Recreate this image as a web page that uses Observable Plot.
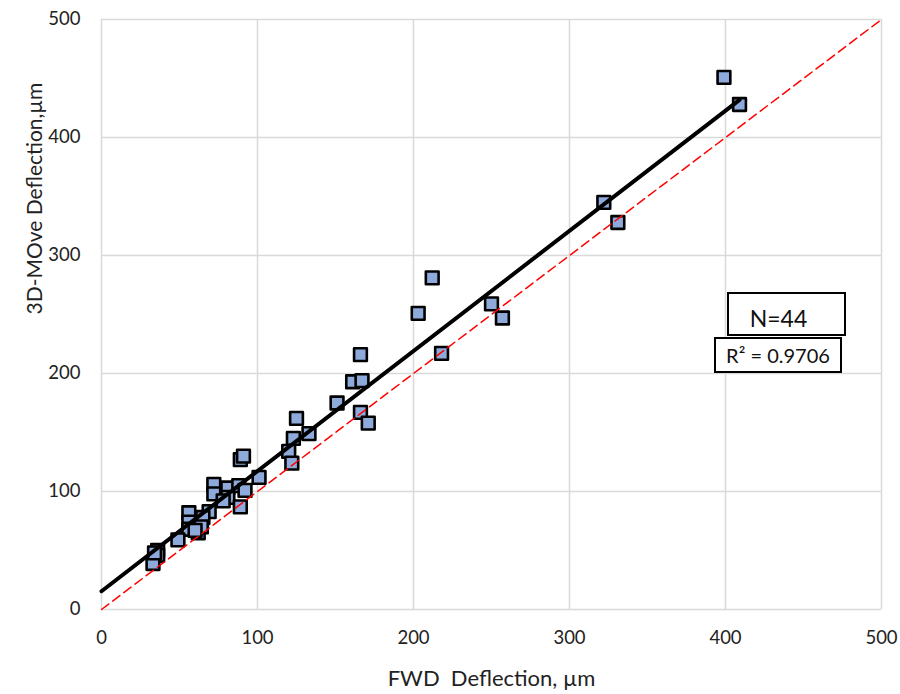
<!DOCTYPE html>
<html>
<head>
<meta charset="utf-8">
<script src="https://cdn.jsdelivr.net/npm/d3@7"></script>
<script src="https://cdn.jsdelivr.net/npm/@observablehq/plot@0.6"></script>
<style>
  html, body { margin: 0; padding: 0; background: #fff; }
  #wrap { position: relative; width: 900px; height: 694px; font-family: Lato, "Open Sans", sans-serif; }
  .box { position: absolute; box-sizing: border-box; border: 2px solid #000; background: #fff; color: #111; display: flex; align-items: center; justify-content: center; white-space: nowrap; }
</style>
</head>
<body>
<div id="wrap"></div>
<script>
// FWD deflection (µm) and 3D-MOve deflection (µm)
const fwd   = [399, 409, 322, 331, 212, 203, 250, 257, 218, 166, 161, 167, 151, 166, 171,
               125, 133, 123, 120, 122, 89, 91, 101, 72, 72, 81, 81, 88, 92, 89,
               56, 69, 56, 65, 62, 56, 64, 49, 36, 36, 33, 60, 78, 34];
const move3d = [451, 428, 345, 328, 281, 251, 259, 247, 217, 216, 193, 194, 175, 167, 158,
               162, 149, 145, 134, 124, 127, 130, 112, 106, 98, 103, 95, 105, 101, 87,
               82, 83, 74, 78, 65, 68, 70, 59, 50, 46, 39, 67, 92, 48];
const ticks = [0, 100, 200, 300, 400, 500];
const oneToOne = [0, 500];
// trendline (y = slope·x + intercept), from x = 0 to the last FWD value
const trendSlope = 1.018;
const trendIntercept = 15.5;
const trendRange = [0, 409];
const nLabel = "N=44";
const r2Label = "R² = 0.9706";
const xLabel = "FWD\u00a0 Deflection, µm";
const yLabel = "3D-MOve Deflection,µm";

const pts = fwd.map((x, i) => ({x, y: move3d[i]}));
const trend = trendRange.map(x => ({x, y: trendIntercept + trendSlope * x}));

const chart = Plot.plot({
  width: 900,
  height: 694,
  marginLeft: 101,
  marginRight: 19,
  marginTop: 19,
  marginBottom: 85,
  style: {fontFamily: "Lato, 'Open Sans', sans-serif", fontSize: "18px", color: "#222", background: "#fff"},
  x: {domain: [0, 500]},
  y: {domain: [0, 500]},
  marks: [
    Plot.gridX(ticks, {stroke: "#d9d9d9", strokeOpacity: 1, strokeWidth: 1.5}),
    Plot.gridY(ticks, {stroke: "#d9d9d9", strokeOpacity: 1, strokeWidth: 1.5}),
    Plot.axisX(ticks, {tickSize: 0, tickPadding: 21, fontSize: 18.5, label: null}),
    Plot.axisY(ticks, {tickSize: 0, tickPadding: 21, fontSize: 18.5, label: null}),
    Plot.text([xLabel], {frameAnchor: "bottom", dy: 76, fontSize: 22, fill: "#222", text: d => d}),
    Plot.text([yLabel], {frameAnchor: "left", dx: -66, rotate: -90, fontSize: 21, fill: "#222", text: d => d}),
    Plot.dot(pts, {x: "x", y: "y", symbol: "square", r: 7.2, fill: "#8eaadb", stroke: "#000", strokeWidth: 2.6, strokeLinejoin: "round"}),
    Plot.line(oneToOne.map(v => ({x: v, y: v})), {x: "x", y: "y", stroke: "#ff0000", strokeWidth: 1.5, strokeDasharray: "9,5"}),
    Plot.line(trend, {x: "x", y: "y", stroke: "#000", strokeWidth: 4})
  ]
});
const wrap = document.getElementById("wrap");
wrap.appendChild(chart);

const b1 = document.createElement("div");
b1.className = "box";
b1.style.cssText = "left:727px;top:292px;width:119px;height:44px;font-size:23px;padding-top:8px;padding-right:16px;";
b1.textContent = nLabel;
wrap.appendChild(b1);
const b2 = document.createElement("div");
b2.className = "box";
b2.style.cssText = "left:714px;top:337px;width:128px;height:36px;font-size:20px;";
b2.textContent = r2Label;
wrap.appendChild(b2);
</script>
</body>
</html>
